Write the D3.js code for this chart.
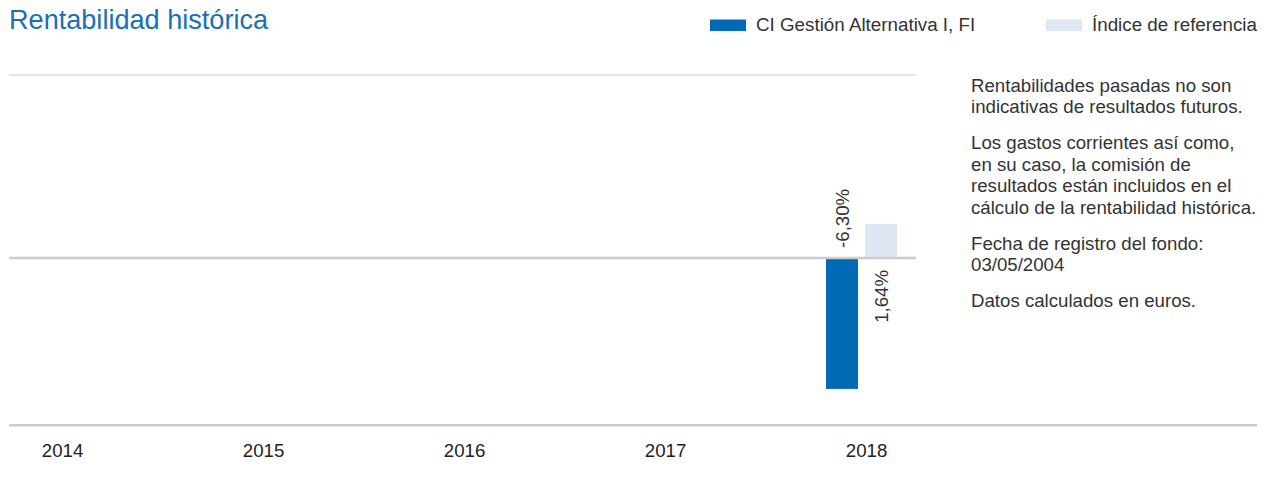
<!DOCTYPE html>
<html>
<head>
<meta charset="utf-8">
<script src="https://cdn.jsdelivr.net/npm/d3@7"></script>
<style>
  html, body { margin: 0; padding: 0; background: #fff; }
  svg { display: block; font-family: "Liberation Sans", Arial, sans-serif; }
</style>
</head>
<body>
<svg id="chart" width="1270" height="489"></svg>
<script>
// ---- data ----
const years = ["2014", "2015", "2016", "2017", "2018"];
const seriesNames = ["CI Gestión Alternativa I, FI", "Índice de referencia"];
const fundValues = [null, null, null, null, -6.30];
const indexValues = [null, null, null, null, 1.64];
const valueLabels = { fund: [null, null, null, null, "-6,30%"], index: [null, null, null, null, "1,64%"] };
const gridValues = [8.8];
const notes = [
  ["Rentabilidades pasadas no son", "indicativas de resultados futuros."],
  ["Los gastos corrientes así como,", "en su caso, la comisión de", "resultados están incluidos en el", "cálculo de la rentabilidad histórica."],
  ["Fecha de registro del fondo:", "03/05/2004"],
  ["Datos calculados en euros."]
];
const titleText = "Rentabilidad histórica";
const colors = ["#006ab4", "#dfe7f2"];

const svg = d3.select("#chart");

// scales
const x = d3.scalePoint().domain(years).range([62, 866]);
const xSub = d3.scaleBand().domain(seriesNames).range([-40, 31]).paddingInner(0.18);
const y = d3.scaleLinear().domain([-8.05, 8.8]).range([425.3, 75]);

// title
svg.append("text").attr("x", 9).attr("y", 29)
  .attr("font-size", 27.1).attr("fill", "#1a6fb5").text(titleText);

// legend
const legendX = [710, 1046];
seriesNames.forEach((name, i) => {
  svg.append("rect").attr("x", legendX[i]).attr("y", 19.5).attr("width", 36).attr("height", 11.5).attr("fill", colors[i]);
  svg.append("text").attr("x", legendX[i] + 46).attr("y", 31)
    .attr("font-size", 18.8).attr("fill", "#333").text(name);
});

// gridlines
svg.selectAll("line.grid").data(gridValues).join("line")
  .attr("class", "grid")
  .attr("x1", 9).attr("x2", 916)
  .attr("y1", d => y(d)).attr("y2", d => y(d))
  .attr("stroke", "#e6e6e6").attr("stroke-width", 2);

// bars
const rows = years.map((yr, i) => ({ year: yr, vals: [fundValues[i], indexValues[i]], labels: [valueLabels.fund[i], valueLabels.index[i]] }));
const g = svg.append("g");
rows.forEach(r => {
  r.vals.forEach((v, j) => {
    if (v == null) return;
    const bx = x(r.year) + xSub(seriesNames[j]);
    g.append("rect")
      .attr("x", bx).attr("width", xSub.bandwidth())
      .attr("y", Math.min(y(v), y(0))).attr("height", Math.abs(y(v) - y(0)))
      .attr("fill", colors[j]);
  });
});

// zero line
svg.append("line").attr("x1", 9).attr("x2", 916).attr("y1", y(0)).attr("y2", y(0))
  .attr("stroke", "#cccccc").attr("stroke-width", 2.5);

// bottom axis line
svg.append("line").attr("x1", 9).attr("x2", 1257).attr("y1", y(-8.05)).attr("y2", y(-8.05))
  .attr("stroke", "#cccccc").attr("stroke-width", 2.5);

// value labels (rotated)
rows.forEach(r => {
  r.vals.forEach((v, j) => {
    if (v == null) return;
    const cx = x(r.year) + xSub(seriesNames[j]) + xSub.bandwidth() / 2;
    const neg = v < 0;
    const yy = neg ? y(0) - 10 : y(0) + 12;
    svg.append("text")
      .attr("transform", `translate(${cx},${yy}) rotate(-90)`)
      .attr("text-anchor", neg ? "start" : "end")
      .attr("dy", "0.35em")
      .attr("font-size", 18.67).attr("fill", "#333")
      .text(r.labels[j]);
  });
});

// x axis labels
const xAxis = d3.axisBottom(x).tickSize(0).tickPadding(0);
const ax = svg.append("g").attr("transform", "translate(0,444)").call(xAxis);
ax.select(".domain").remove();
ax.selectAll("text").attr("font-size", 18.67).attr("fill", "#222")
  .attr("font-family", "'Liberation Sans', Arial, sans-serif").attr("dy", "0.71em");

// notes
let ny = 92;
const notesG = svg.append("g");
notes.forEach((para, pi) => {
  para.forEach((line, li) => {
    notesG.append("text").attr("x", 971).attr("y", ny)
      .attr("font-size", 18.67).attr("fill", "#333").text(line);
    if (li < para.length - 1) ny += 21.4;
  });
  ny += 36;
});
</script>
</body>
</html>
